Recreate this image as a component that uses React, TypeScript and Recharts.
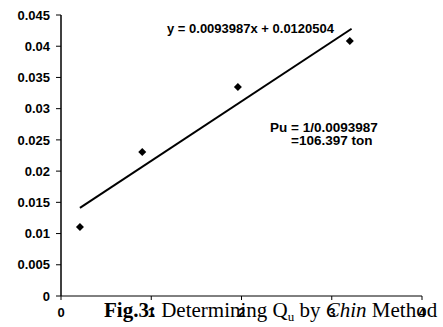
import React from 'react';
import { ComposedChart, Scatter, XAxis, YAxis } from 'recharts';

const xTicks = [0, 1, 2, 3, 4];
const yTicks = [0, 0.005, 0.01, 0.015, 0.02, 0.025, 0.03, 0.035, 0.04, 0.045];
const settlementX = [0.21, 0.9, 1.96, 3.2];
const ratioY = [0.01105, 0.02306, 0.03347, 0.04084];
const trendX = [0.21, 3.22];
const trendY = [0.0141, 0.0428];

const points = settlementX.map((x, i) => ({ x, y: ratioY[i] }));
const trend = trendX.map((x, i) => ({ x, y: trendY[i] }));

const numFont = '"Liberation Sans", Arial, sans-serif';
const serif = '"Liberation Serif", "Times New Roman", serif';

const Diamond = (props: any) => {
  const { cx, cy } = props;
  if (cx == null || cy == null) return null;
  return <path d={`M${cx},${cy - 4} L${cx + 4},${cy} L${cx},${cy + 4} L${cx - 4},${cy} Z`} fill="#000" />;
};

export default function App() {
  return (
    <div style={{ position: 'absolute', left: 0, top: 0, width: 443, height: 327, background: '#fff' }}>
      <ComposedChart width={443} height={327} margin={{ top: 15, right: 21, left: 0, bottom: 0 }}>
        <XAxis
          type="number"
          dataKey="x"
          domain={[0, 4]}
          ticks={xTicks}
          height={31}
          tickSize={4}
          tickMargin={8}
          axisLine={{ stroke: '#000', strokeWidth: 1 }}
          tickLine={{ stroke: '#000' }}
          tick={{ fill: '#000', fontSize: 13, fontWeight: 700, fontFamily: numFont }}
        />
        <YAxis
          type="number"
          dataKey="y"
          domain={[0, 0.045]}
          ticks={yTicks}
          width={61}
          tickSize={5}
          tickMargin={6}
          axisLine={{ stroke: '#000', strokeWidth: 1.5 }}
          tickLine={{ stroke: '#000' }}
          tick={{ fill: '#000', fontSize: 13, fontWeight: 700, fontFamily: numFont }}
        />
        <Scatter data={trend} line={{ stroke: '#000', strokeWidth: 2 }} shape={() => null} isAnimationActive={false} />
        <Scatter data={points} shape={Diamond} isAnimationActive={false} />
      </ComposedChart>
      <svg width={443} height={327} style={{ position: 'absolute', left: 0, top: 0, pointerEvents: 'none' }}>
        <text x={167} y={33} fontFamily={numFont} fontWeight={700} fontSize={13} fill="#000">
          y = 0.0093987x + 0.0120504
        </text>
        <text x={270} y={132} fontFamily={numFont} fontWeight={700} fontSize={13.5} fill="#000">
          Pu = 1/0.0093987
        </text>
        <text x={291} y={145} fontFamily={numFont} fontWeight={700} fontSize={13.5} fill="#000">
          =106.397 ton
        </text>
        <text x={104} y={317} fontFamily={serif} fontSize={21} fill="#000">
          <tspan fontWeight={700}>Fig.3:</tspan>
          <tspan> Determining Q</tspan>
          <tspan fontSize={13} dy={4}>u</tspan>
          <tspan dy={-4}> by </tspan>
          <tspan fontStyle="italic">Chin</tspan>
          <tspan> Method</tspan>
        </text>
      </svg>
    </div>
  );
}
